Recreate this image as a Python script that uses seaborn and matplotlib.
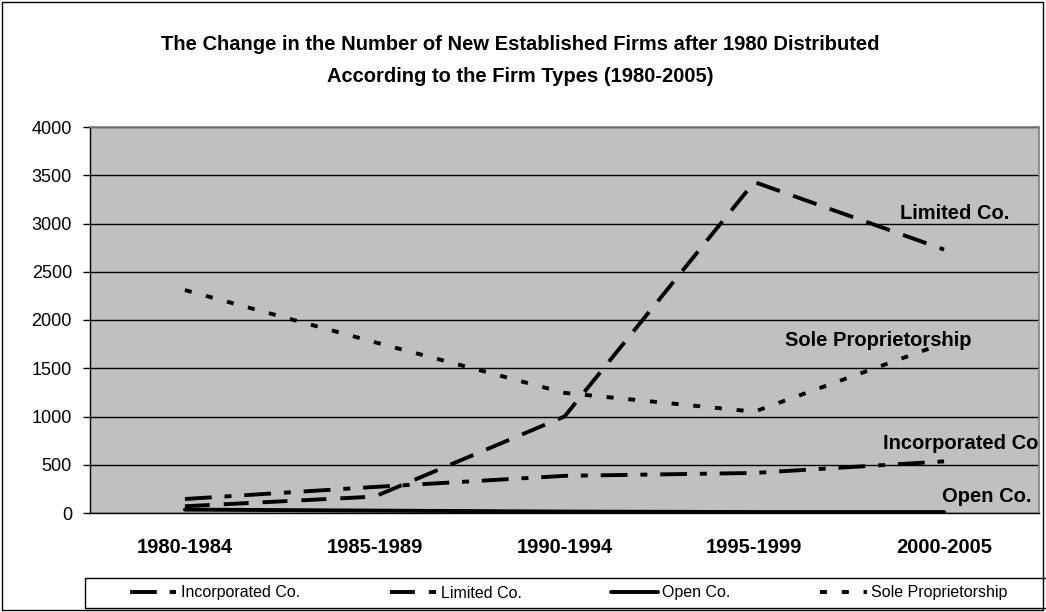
import matplotlib
matplotlib.use("Agg")
import matplotlib.pyplot as plt
import seaborn as sns
import pandas as pd
from matplotlib.patches import Rectangle
from matplotlib.ticker import FixedLocator

# Periods and number of newly established firms by firm type
periods = ["1980-1984", "1985-1989", "1990-1994", "1995-1999", "2000-2005"]
incorporated = [145, 270, 385, 415, 535]
limited = [70, 170, 1000, 3430, 2730]
open_co = [35, 25, 15, 10, 10]
sole = [2310, 1770, 1245, 1050, 1760]

series_names = ["Incorporated Co.", "Limited Co.", "Open Co.", "Sole Proprietorship"]
series_values = [incorporated, limited, open_co, sole]

rows = []
for name, vals in zip(series_names, series_values):
    for i, (p, v) in enumerate(zip(periods, vals)):
        rows.append({"pos": i, "period": p, "type": name, "firms": v})
df = pd.DataFrame(rows)

sns.set_theme(style="white")
plt.rcParams["font.family"] = ["Liberation Sans", "DejaVu Sans"]
plt.rcParams.update({"text.color": "black", "axes.labelcolor": "black",
                     "xtick.color": "black", "ytick.color": "black"})

W, H = 1046, 612
fig = plt.figure(figsize=(W / 100, H / 100), dpi=100)
ax = fig.add_axes([90 / W, 99 / H, 949 / W, 386 / H])
ax.set_facecolor("#C0C0C0")

dash_styles = {
    "Incorporated Co.": (6.9, 3.3, 1.8, 3.3),
    "Limited Co.": (6.4, 3.6),
    "Open Co.": "",
    "Sole Proprietorship": (1.8, 3.8),
}

sns.lineplot(data=df, x="pos", y="firms", hue="type", style="type",
             hue_order=series_names, style_order=series_names,
             palette=["black"] * 4, dashes=dash_styles, linewidth=2.8,
             ax=ax, legend=True, zorder=3)

ax.set_xlim(-0.5, 4.5)
ax.set_ylim(0, 4000)
ax.set_yticks(range(0, 4001, 500))
ax.set_yticklabels([str(v) for v in range(0, 4001, 500)], fontsize=13)
ax.set_xticks(range(len(periods)))
ax.set_xticklabels(periods, fontsize=14.5, fontweight="bold")
ax.xaxis.set_minor_locator(FixedLocator([i - 0.5 for i in range(len(periods) + 1)]))
ax.tick_params(axis="x", which="major", length=0, pad=18, colors="black")
ax.tick_params(axis="x", which="minor", length=5, width=1, color="black", direction="out")
ax.tick_params(axis="y", length=5, width=1, color="black", labelcolor="black",
               direction="out", pad=8, left=True)
ax.set_xlabel("")
ax.set_ylabel("")
ax.grid(axis="y", color="black", linewidth=1, zorder=1)
ax.set_axisbelow(True)
for side in ["left", "bottom"]:
    ax.spines[side].set_color("black")
    ax.spines[side].set_linewidth(1)
for side in ["top", "right"]:
    ax.spines[side].set_color("#808080")
    ax.spines[side].set_linewidth(1.2)

# Series labels inside the plot
label_kw = dict(fontsize=14.5, fontweight="bold", color="black", va="center", ha="left",
                clip_on=True, zorder=4)
ax.text(3.77, 3100, "Limited Co.", **label_kw)
ax.text(3.16, 1790, "Sole Proprietorship", **label_kw)
ax.text(3.68, 725, "Incorporated Co.", **label_kw)
ax.text(3.99, 166, "Open Co.", **label_kw)

# Title
fig.text(0.497, 1 - 45 / H, "The Change in the Number of New Established Firms after 1980 Distributed",
         ha="center", va="center", fontsize=14.5, fontweight="bold", color="black")
fig.text(0.497, 1 - 76 / H, "According to the Firm Types (1980-2005)",
         ha="center", va="center", fontsize=14.5, fontweight="bold", color="black")

# Legend along the bottom, inside a plain box
handles, labels = ax.get_legend_handles_labels()
if ax.get_legend():
    ax.get_legend().remove()
leg = fig.legend(handles, labels, loc="center left", bbox_to_anchor=(130 / W, 1 - 593 / H),
                 ncol=4, frameon=False, fontsize=11.5, labelcolor="black",
                 handlelength=2.9, handletextpad=0.3, columnspacing=5.6,
                 borderpad=0, borderaxespad=0)
fig.patches.append(Rectangle((85 / W, 1 - 608 / H), 980 / W, 30 / H, transform=fig.transFigure,
                             fill=False, edgecolor="black", linewidth=1, clip_on=False))

# Outer chart border
fig.patches.append(Rectangle((2 / W, 2 / H), 1041 / W, 608 / H, transform=fig.transFigure,
                             fill=False, edgecolor="black", linewidth=1))

fig.savefig("out.png", dpi=100)
